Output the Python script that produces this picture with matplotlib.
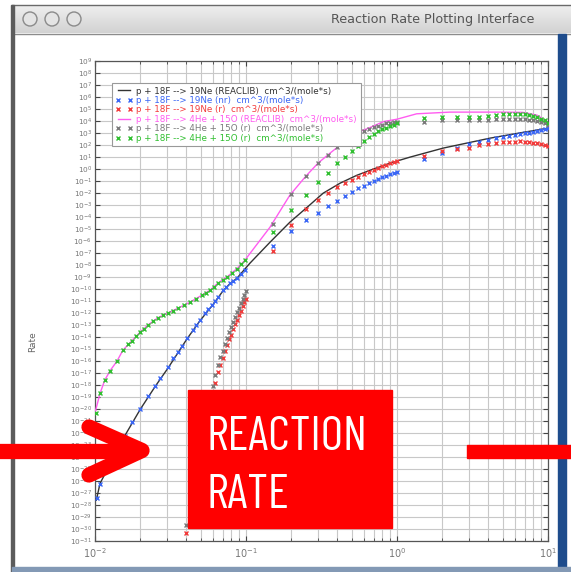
import numpy as np
import matplotlib
matplotlib.use("Agg")
import matplotlib.pyplot as plt
from matplotlib.patches import Rectangle, Circle
from matplotlib.lines import Line2D
from matplotlib.ticker import FixedLocator, FuncFormatter, NullFormatter

# ---------------- data: temperature T9 and log10(rate) ----------------
# p + 18F -> 19Ne (REACLIB) fit, drawn as a line
reaclib19_T = [0.0102, 0.0108, 0.0158, 0.0200, 0.0251, 0.0304, 0.0407, 0.0495, 0.0596,
               0.0705, 0.0783, 0.0871, 0.106, 0.144, 0.195, 0.254, 0.324, 0.420, 0.543,
               0.693, 0.899, 1.22, 2.02, 4.13, 6.82, 10.0]
reaclib19_logR = [-27.6, -26.2, -22.2, -20.0, -18.1, -16.6, -14.15, -12.65, -11.4,
                  -10.15, -9.55, -9.1, -7.86, -6.11, -4.44, -3.19, -2.02, -1.18, -0.52,
                  -0.02, 0.49, 0.99, 1.74, 2.57, 3.05, 3.4]

# p + 18F -> 19Ne (nr)
nr19_T = [0.0103, 0.0108, 0.0126, 0.0140, 0.0158, 0.0176, 0.0199, 0.0224, 0.0250, 0.0269,
          0.0304, 0.0329, 0.0355, 0.0377, 0.0406, 0.0446, 0.0467, 0.0496, 0.0535, 0.0560,
          0.0596, 0.0624, 0.0653, 0.0705, 0.0738, 0.0783, 0.0820, 0.0871, 0.0927, 0.0984,
          0.15, 0.20, 0.25, 0.30, 0.35, 0.40, 0.45, 0.50, 0.55, 0.60, 0.65, 0.70, 0.75,
          0.80, 0.85, 0.90, 0.95, 1.00,
          1.5, 2.0, 2.5, 3.0, 3.5, 4.0, 4.5, 5.0, 5.5, 6.0, 6.5, 7.0, 7.5, 8.0, 8.5, 9.0,
          9.5, 10.0]
nr19_logR = [-27.39, -26.23, -24.47, -23.30, -22.22, -21.05, -19.97, -18.88, -18.05, -17.38,
             -16.54, -15.79, -15.29, -14.79, -14.12, -13.45, -13.04, -12.62, -12.04, -11.70,
             -11.37, -11.03, -10.70, -10.12, -9.86, -9.53, -9.36, -9.11, -8.78, -8.45,
             -6.44, -5.20, -4.27, -3.69, -3.10, -2.69, -2.27, -1.94, -1.62, -1.38, -1.18,
             -0.98, -0.82, -0.68, -0.55, -0.45, -0.36, -0.28,
             0.82, 1.32, 1.74, 2.07, 2.24, 2.41, 2.57, 2.66, 2.78, 2.86, 2.91, 2.96, 3.00,
             3.08, 3.16, 3.24, 3.32, 3.40]

# p + 18F -> 19Ne (r)
r19_T = [0.040, 0.045, 0.050, 0.055, 0.060, 0.0625, 0.065, 0.0675, 0.070, 0.0725, 0.075,
         0.0775, 0.080, 0.0825, 0.085, 0.0875, 0.090, 0.0925, 0.095, 0.0975, 0.100,
         0.15, 0.20, 0.25, 0.30, 0.35, 0.40, 0.45, 0.50, 0.55, 0.60, 0.65, 0.70, 0.75,
         0.80, 0.85, 0.90, 0.95, 1.00,
         1.5, 2.0, 2.5, 3.0, 3.5, 4.0, 4.5, 5.0, 5.5, 6.0, 6.5, 7.0, 7.5, 8.0, 8.5, 9.0,
         9.5, 10.0]
r19_logR = [-30.3, -27.0, -24.3, -21.5, -18.7, -17.8, -16.95, -16.3, -15.75, -15.2, -14.7,
            -14.2, -13.8, -13.35, -12.95, -12.55, -12.15, -11.8, -11.45, -11.1, -10.8,
            -6.86, -4.69, -3.35, -2.60, -2.02, -1.52, -1.15, -0.90, -0.65, -0.45, -0.25,
            -0.08, 0.08, 0.22, 0.35, 0.47, 0.58, 0.68,
            1.07, 1.49, 1.65, 1.74, 1.99, 2.07, 2.16, 2.24, 2.24, 2.28, 2.32, 2.28, 2.24,
            2.20, 2.16, 2.08, 1.99, 1.90]

# p + 18F -> 4He + 15O (REACLIB) fit, drawn as a line
reaclib15_T = [0.0100, 0.0108, 0.0116, 0.0126, 0.0140, 0.0153, 0.0176, 0.0199, 0.0224,
               0.0261, 0.0304, 0.0355, 0.0426, 0.0512, 0.0578, 0.0653, 0.0748, 0.0871,
               0.0984, 0.1016, 0.144, 0.195, 0.249, 0.300, 0.360, 0.420, 0.501, 0.661,
               0.813, 1.0, 1.35, 2.24, 4.79, 6.82, 8.45, 10.0]
reaclib15_logR = [-20.3, -18.7, -17.6, -16.8, -16.0, -15.1, -14.3, -13.6, -13.0, -12.4,
                  -12.0, -11.6, -11.1, -10.5, -10.1, -9.5, -9.0, -8.3, -7.6, -7.36, -4.86,
                  -2.19, -0.60, 0.49, 1.32, 1.99, 2.85, 3.45, 3.95, 4.15, 4.60, 4.74,
                  4.74, 4.72, 4.49, 3.91]

# p + 18F -> 4He + 15O, grey symbols
nr15_T = [0.040, 0.045, 0.050, 0.055, 0.060, 0.0625, 0.065, 0.0675, 0.070, 0.0725, 0.075,
          0.0775, 0.080, 0.0825, 0.085, 0.0875, 0.090, 0.0925, 0.095, 0.0975, 0.100,
          0.15, 0.20, 0.25, 0.30, 0.35, 0.40, 0.45, 0.50, 0.55, 0.60, 0.65, 0.70, 0.75,
          0.80, 0.85, 0.90, 0.95, 1.00,
          1.5, 2.0, 2.5, 3.0, 3.5, 4.0, 4.5, 5.0, 5.5, 6.0, 6.5, 7.0, 7.5, 8.0, 8.5, 9.0,
          9.5, 10.0]
nr15_logR = [-29.7, -26.4, -23.7, -20.9, -18.1, -17.2, -16.35, -15.7, -15.15, -14.6, -14.1,
             -13.6, -13.2, -12.75, -12.35, -11.95, -11.55, -11.2, -10.85, -10.5, -10.2,
             -4.55, -2.05, -0.60, 0.49, 1.20, 1.80, 2.30, 2.75, 3.00, 3.20, 3.35, 3.50,
             3.60, 3.70, 3.80, 3.85, 3.90, 3.95,
             3.95, 4.05, 4.05, 4.05, 4.05, 4.10, 4.15, 4.20, 4.20, 4.20, 4.20, 4.18, 4.12,
             4.05, 3.98, 3.90, 3.80, 3.70]

# p + 18F -> 4He + 15O (r)
r15_T = [0.0101, 0.0108, 0.0116, 0.0126, 0.0140, 0.0153, 0.0166, 0.0176, 0.0188, 0.0199,
         0.0211, 0.0224, 0.0243, 0.0261, 0.0282, 0.0304, 0.0327, 0.0355, 0.0389, 0.0426,
         0.0468, 0.0512, 0.0543, 0.0578, 0.0617, 0.0653, 0.0700, 0.0748, 0.0804, 0.0871,
         0.0923, 0.0984,
         0.15, 0.20, 0.25, 0.30, 0.35, 0.40, 0.45, 0.50, 0.55, 0.60, 0.65, 0.70, 0.75,
         0.80, 0.85, 0.90, 0.95, 1.00,
         1.5, 2.0, 2.5, 3.0, 3.5, 4.0, 4.5, 5.0, 5.5, 6.0, 6.5, 7.0, 7.5, 8.0, 8.5, 9.0,
         9.5, 10.0]
r15_logR = [-20.3, -18.7, -17.6, -16.8, -16.0, -15.1, -14.6, -14.3, -13.9, -13.6, -13.3,
            -13.0, -12.7, -12.4, -12.2, -12.0, -11.8, -11.6, -11.35, -11.1, -10.8, -10.5,
            -10.3, -10.1, -9.8, -9.5, -9.25, -9.0, -8.65, -8.3, -7.95, -7.6,
            -5.27, -3.44, -2.19, -1.10, -0.30, 0.49, 1.00, 1.50, 1.95, 2.35, 2.70, 2.95,
            3.15, 3.30, 3.45, 3.58, 3.70, 3.80,
            4.24, 4.33, 4.33, 4.33, 4.33, 4.41, 4.49, 4.58, 4.58, 4.58, 4.58, 4.55, 4.49,
            4.40, 4.33, 4.20, 4.08, 3.82]

legend_labels = [
    "p + 18F --> 19Ne (REACLIB)  cm^3/(mole*s)",
    "p + 18F --> 19Ne (nr)  cm^3/(mole*s)",
    "p + 18F --> 19Ne (r)  cm^3/(mole*s)",
    "p + 18F --> 4He + 15O (REACLIB)  cm^3/(mole*s)",
    "p + 18F --> 4He + 15O (r)  cm^3/(mole*s)",
    "p + 18F --> 4He + 15O (r)  cm^3/(mole*s)",
]
series_colors = ["#333333", "#3a66f5", "#f23a3a", "#ff5cf0", "#7a7a7a", "#2fbf2f"]

# ---------------- figure ----------------
W, H = 571, 572
fig = plt.figure(figsize=(W / 100, H / 100), dpi=100)
fig.patch.set_facecolor("white")


def px_axes(l, t, r, b, **kw):
    return fig.add_axes([l / W, 1 - b / H, (r - l) / W, (b - t) / H], **kw)


# window chrome (behind the plot)
bg = px_axes(0, 0, W, H, zorder=-5)
bg.set_xlim(0, W)
bg.set_ylim(H, 0)
bg.axis("off")
grad = np.linspace(0, 1, 50)[:, None]
bg.imshow(grad, cmap=matplotlib.colors.LinearSegmentedColormap.from_list(
    "bar", ["#efefef", "#d2d2d2"]), extent=(12, W, 33, 5), aspect="auto", zorder=1)
bg.plot([12, W], [5, 5], color="#6a6a6a", lw=1.0, zorder=2)
bg.plot([12, W], [33.5, 33.5], color="#8c8c8c", lw=1.0, zorder=2)
bg.add_patch(Rectangle((11, 5), 3, H - 5, color="#5c5c5c", zorder=2))
bg.add_patch(Rectangle((558, 34), 8, H - 34, color="#1e4c8c", zorder=2))
bg.add_patch(Rectangle((12, 567), W - 12, 5, color="#8399b5", zorder=2))
for cx in (30, 52, 74):
    bg.add_patch(Circle((cx, 19), 7, facecolor="#e4e4e4", edgecolor="#8a8a8a",
                        lw=1.0, zorder=3))
bg.text(433, 19.5, "Reaction Rate Plotting Interface", ha="center", va="center",
        fontsize=9.2, color="#555555", family="DejaVu Sans", zorder=3)
bg.text(33, 342, "Rate", rotation=90, ha="center", va="center", fontsize=6.5,
        color="#666666")

# main log-log axes
ax = px_axes(95, 61, 548, 541)
ax.set_xscale("log")
ax.set_yscale("log")

ax.plot(reaclib19_T, 10.0 ** np.array(reaclib19_logR), color=series_colors[0], lw=1.0,
        zorder=3)
ax.plot(reaclib15_T, 10.0 ** np.array(reaclib15_logR), color=series_colors[3], lw=1.0,
        zorder=3)
mk = dict(ls="none", marker="x", ms=2.6, mew=1.0, zorder=4)
ax.plot(nr19_T, 10.0 ** np.array(nr19_logR), color=series_colors[1], **mk)
ax.plot(r19_T, 10.0 ** np.array(r19_logR), color=series_colors[2], **mk)
ax.plot(nr15_T, 10.0 ** np.array(nr15_logR), color=series_colors[4], **mk)
ax.plot(r15_T, 10.0 ** np.array(r15_logR), color=series_colors[5], **mk)

ax.set_xlim(1e-2, 1e1)
ax.set_ylim(1e-31, 1e9)
ax.yaxis.set_major_locator(FixedLocator([10.0 ** k for k in range(-31, 10)]))
ax.yaxis.set_minor_locator(FixedLocator([]))
ax.yaxis.set_major_formatter(FuncFormatter(
    lambda v, p: r"$10^{%d}$" % int(round(np.log10(v)))))
ax.xaxis.set_major_locator(FixedLocator([1e-2, 1e-1, 1e0, 1e1]))
ax.xaxis.set_major_formatter(FuncFormatter(
    lambda v, p: r"$10^{%d}$" % int(round(np.log10(v)))))
ax.xaxis.set_minor_locator(FixedLocator(
    [m * 10.0 ** e for e in (-2, -1, 0) for m in range(2, 10)]))
ax.xaxis.set_minor_formatter(NullFormatter())

ax.grid(True, which="major", color="#c8c8c8", lw=0.8)
ax.grid(True, which="minor", axis="x", color="#c8c8c8", lw=0.8)
ax.set_axisbelow(True)
ax.tick_params(axis="both", which="both", direction="in", top=True, right=True,
               color="#444444")
ax.tick_params(axis="both", which="major", length=3.5)
ax.tick_params(axis="x", which="minor", length=2)
ax.tick_params(axis="y", labelsize=5.3, labelcolor="#777777", pad=2)
ax.tick_params(axis="x", labelsize=7, labelcolor="#777777", pad=4)
for s in ax.spines.values():
    s.set_color("#555555")
    s.set_linewidth(0.9)

handles = [
    Line2D([], [], color=series_colors[0], lw=1.0),
    Line2D([], [], color=series_colors[1], ls="none", marker="x", ms=2.6, mew=1.0),
    Line2D([], [], color=series_colors[2], ls="none", marker="x", ms=2.6, mew=1.0),
    Line2D([], [], color=series_colors[3], lw=1.0),
    Line2D([], [], color=series_colors[4], ls="none", marker="x", ms=2.6, mew=1.0),
    Line2D([], [], color=series_colors[5], ls="none", marker="x", ms=2.6, mew=1.0),
]
leg = ax.legend(handles, legend_labels, loc="upper left",
                bbox_to_anchor=(112 / W, 1 - 83 / H), bbox_transform=fig.transFigure,
                fontsize=6.3, numpoints=2, frameon=True, fancybox=False,
                edgecolor="#999999", framealpha=1.0, borderpad=0.4, labelspacing=0.05,
                handlelength=2.0, handletextpad=0.4, borderaxespad=0)
leg.get_frame().set_linewidth(0.8)
for t, c in zip(leg.get_texts(), series_colors):
    t.set_color(c)

# overlay: banner and arrows
ov = px_axes(0, 0, W, H, zorder=10)
ov.set_xlim(0, W)
ov.set_ylim(H, 0)
ov.axis("off")
ov.patch.set_alpha(0)
red = "#ff0000"
ov.add_patch(Rectangle((188, 390), 204, 138, color=red, zorder=1))
box_font = ["Barlow Condensed", "Asap Condensed", "DejaVu Sans"]
ov.text(207, 450, "REACTION", color="white", fontsize=35, family=box_font,
        ha="left", va="baseline", zorder=2)
ov.text(207, 508, "RATE", color="white", fontsize=35, family=box_font,
        ha="left", va="baseline", zorder=2)

ov.plot([-5, 138], [450.5, 450.5], color=red, lw=11, solid_capstyle="butt", zorder=1)
ov.plot([89, 142, 89], [427, 450.5, 475], color=red, lw=11, solid_capstyle="round",
        solid_joinstyle="round", zorder=1)
ov.add_patch(Rectangle((467, 445), W - 467 + 2, 12.5, color=red, zorder=1))

fig.savefig("out.png", dpi=100)
